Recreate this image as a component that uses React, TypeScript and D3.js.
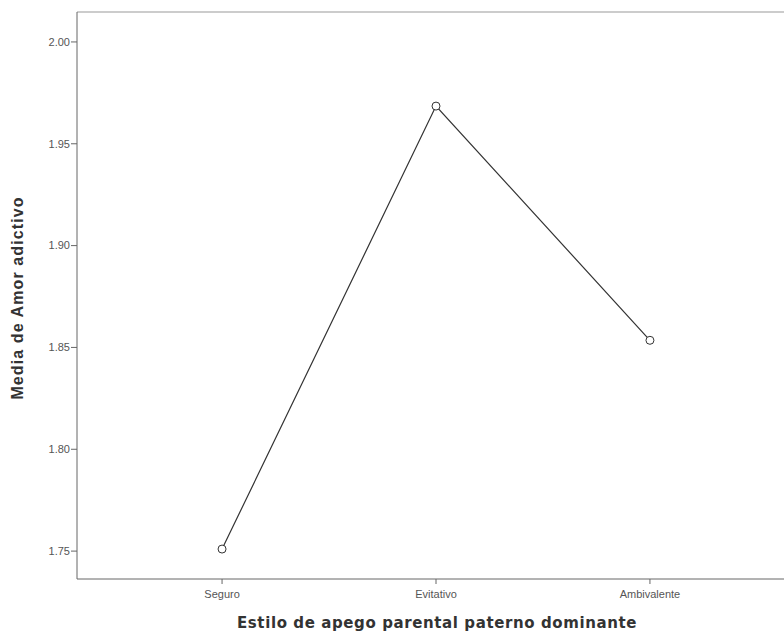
import React from "react";
import * as d3 from "d3";

const categories = ["Seguro", "Evitativo", "Ambivalente"];
const values = [1.751, 1.9685, 1.8535];
const yTicks = [1.75, 1.8, 1.85, 1.9, 1.95, 2.0];

export default function App() {
  const W = 784, H = 635;
  const left = 77, top = 12, bottom = 579, right = 795;
  const x = d3.scalePoint<string>().domain(categories).range([left, right]).padding(0.678);
  const y = d3.scaleLinear().domain([1.7363, 2.0147]).range([bottom, top]);
  const line = d3.line<number>().x((_, i) => x(categories[i])!).y((d) => y(d));
  const font = "Arial, 'Liberation Sans', sans-serif";
  return (
    <svg width={W} height={H} style={{ position: "absolute", left: 0, top: 0, background: "#fff" }}>
      <line x1={left} y1={top} x2={W} y2={top} stroke="#999" strokeWidth={1} />
      <line x1={left} y1={bottom} x2={W} y2={bottom} stroke="#666" strokeWidth={1} />
      <line x1={left} y1={top} x2={left} y2={bottom} stroke="#666" strokeWidth={1} />
      {yTicks.map((t) => (
        <g key={t}>
          <line x1={left - 6} x2={left} y1={y(t)} y2={y(t)} stroke="#666" />
          <text x={left - 7} y={y(t)} dy="0.35em" textAnchor="end" fontSize={11} fill="#555" fontFamily={font}>
            {t.toFixed(2)}
          </text>
        </g>
      ))}
      {categories.map((c) => (
        <g key={c}>
          <line x1={x(c)} x2={x(c)} y1={bottom} y2={bottom + 5} stroke="#666" />
          <text x={x(c)} y={bottom + 19} textAnchor="middle" fontSize={11} fill="#555" fontFamily={font}>
            {c}
          </text>
        </g>
      ))}
      <path d={line(values)!} fill="none" stroke="#333" strokeWidth={1.2} />
      {values.map((v, i) => (
        <circle key={i} cx={x(categories[i])} cy={y(v)} r={4} fill="#fff" stroke="#333" strokeWidth={1} />
      ))}
      <text
        transform={`translate(23,298) rotate(-90)`}
        textAnchor="middle"
        fontSize={16}
        fontWeight="bold"
        fill="#333"
        fontFamily={font}
        letterSpacing={1.1}
      >
        Media de Amor adictivo
      </text>
      <text
        x={437}
        y={628}
        textAnchor="middle"
        fontSize={15}
        fontWeight="bold"
        fill="#333"
        fontFamily="'DejaVu Sans', Verdana, sans-serif"
        letterSpacing={0.6}
      >
        Estilo de apego parental paterno dominante
      </text>
    </svg>
  );
}
